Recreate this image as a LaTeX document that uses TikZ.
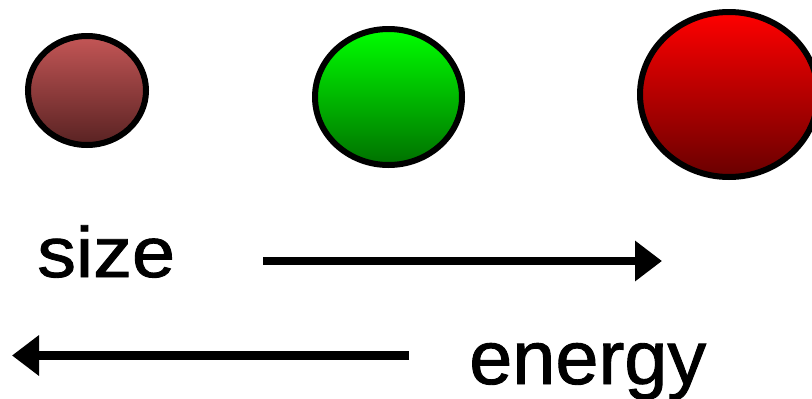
\documentclass[tikz,border=0pt]{standalone}
\usepackage{fontspec}
\setmainfont{Liberation Sans}
\newfontfamily\heavysans[FakeBold=1.2]{Liberation Sans}
\usetikzlibrary{shapes.geometric,arrows.meta}
\definecolor{browntop}{RGB}{196,86,86}
\definecolor{brownbot}{RGB}{88,34,34}
\definecolor{greentop}{RGB}{0,255,0}
\definecolor{greenbot}{RGB}{0,112,0}
\definecolor{redtop}{RGB}{255,0,0}
\definecolor{redbot}{RGB}{105,0,0}
\tikzset{
  ball/.style={ellipse, draw=black, line width=6pt, inner sep=0pt, outer sep=0pt},
  label text/.style={inner sep=0pt, anchor=base west, text=black},
  bigarrow/.style={line width=8.5pt, -{Triangle[length=27pt,width=39pt]}}
}
\begin{document}
\begin{tikzpicture}[x=1pt,y=-1pt]
\clip (0,0) rectangle (812,399);
\fill[white] (0,0) rectangle (812,399);
\node[ball, minimum width=118pt, minimum height=109pt, top color=browntop, bottom color=brownbot] (c1) at (87,90.5) {};
\node[ball, minimum width=147pt, minimum height=136pt, top color=greentop, bottom color=greenbot] (c2) at (388.5,97) {};
\node[ball, minimum width=178pt, minimum height=165pt, top color=redtop, bottom color=redbot] (c3) at (729,94.5) {};
\node[label text, xscale=1.14, yscale=1.05, font=\heavysans\fontsize{68}{68}\selectfont] (size) at (37,277) {size};
\node[label text, xscale=1.02, font=\heavysans\fontsize{76}{76}\selectfont] (energy) at (469,384) {energy};
\coordinate (s1) at (263,261);
\coordinate (s2) at (662,261);
\coordinate (e1) at (409,355.5);
\coordinate (e2) at (12,355.5);
\draw[bigarrow] (s1) -- (s2);
\draw[bigarrow] (e1) -- (e2);
\end{tikzpicture}
\end{document}
